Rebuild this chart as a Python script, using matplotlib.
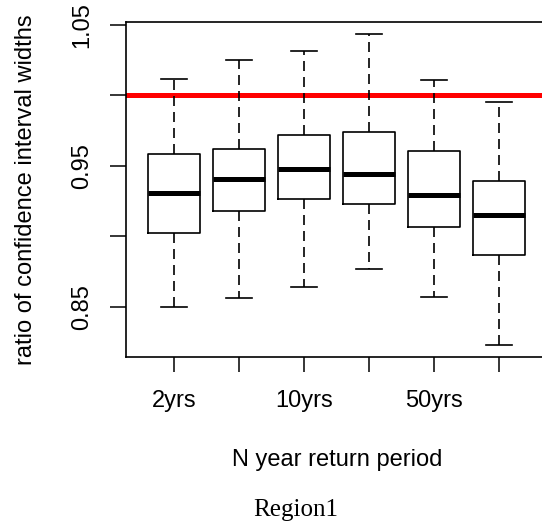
import matplotlib
matplotlib.use("Agg")
import matplotlib.pyplot as plt

# five-number summaries per return period
tick_labels = ['2yrs', '', '10yrs', '', '50yrs', '']
whis_lo = [0.850, 0.856, 0.864, 0.877, 0.857, 0.823]
q1 = [0.9027, 0.9181, 0.9268, 0.9228, 0.9067, 0.8869]
med = [0.9311, 0.9410, 0.9481, 0.9441, 0.9297, 0.9155]
q3 = [0.9583, 0.9623, 0.9722, 0.9739, 0.9609, 0.9396]
whis_hi = [1.0119, 1.0250, 1.0318, 1.0436, 1.0108, 0.9952]
ref_level = 1.0

plt.rcParams['font.family'] = ['Liberation Sans', 'DejaVu Sans']

fig = plt.figure(figsize=(5.42, 5.28), dpi=100)
ax = fig.add_axes([0.2325, 0.3239, 0.7775, 0.6345])

stats = []
for i in range(len(med)):
    stats.append({'whislo': whis_lo[i], 'q1': q1[i], 'med': med[i],
                  'q3': q3[i], 'whishi': whis_hi[i], 'fliers': []})

ax.bxp(stats, positions=range(1, len(stats) + 1), widths=0.8,
       showfliers=False,
       boxprops=dict(color='black', linewidth=1.2),
       medianprops=dict(color='black', linewidth=3.6, solid_capstyle='butt'),
       whiskerprops=dict(color='black', linewidth=1.2, linestyle=(0, (6, 3.6))),
       capprops=dict(color='black', linewidth=1.2),
       capwidths=0.4)

# reference level of equal widths
ax.axhline(ref_level, color='red', linewidth=3.6, zorder=0)

ax.set_xlim(0.26, 6.74)
ax.set_ylim(0.8145, 1.0521)
ax.set_xticks(range(1, len(stats) + 1))
ax.set_xticklabels(tick_labels, fontsize=17)
ax.set_yticks([0.85, 0.90, 0.95, 1.00, 1.05])
ax.set_yticklabels(['0.85', '', '0.95', '', '1.05'], fontsize=17,
                   rotation=90, va='center')
ax.tick_params(axis='x', length=11, width=1.1, pad=13)
ax.tick_params(axis='y', length=11.5, width=1.1, pad=12)

for s in ax.spines.values():
    s.set_linewidth(1.2)

ax.set_xlabel('N year return period', fontsize=17)
ax.xaxis.set_label_coords(0.5, -0.3075)
ax.xaxis.label.set_va('center')
ax.set_ylabel('ratio of confidence interval widths', fontsize=17)
ax.yaxis.set_label_coords(-0.2373, 0.5)
ax.yaxis.label.set_va('center')

fig.text(0.545, 1 - 510 / 528, 'Region1', family='Liberation Serif',
         fontsize=18, ha='center', va='center')

fig.savefig('out.png', dpi=100)
